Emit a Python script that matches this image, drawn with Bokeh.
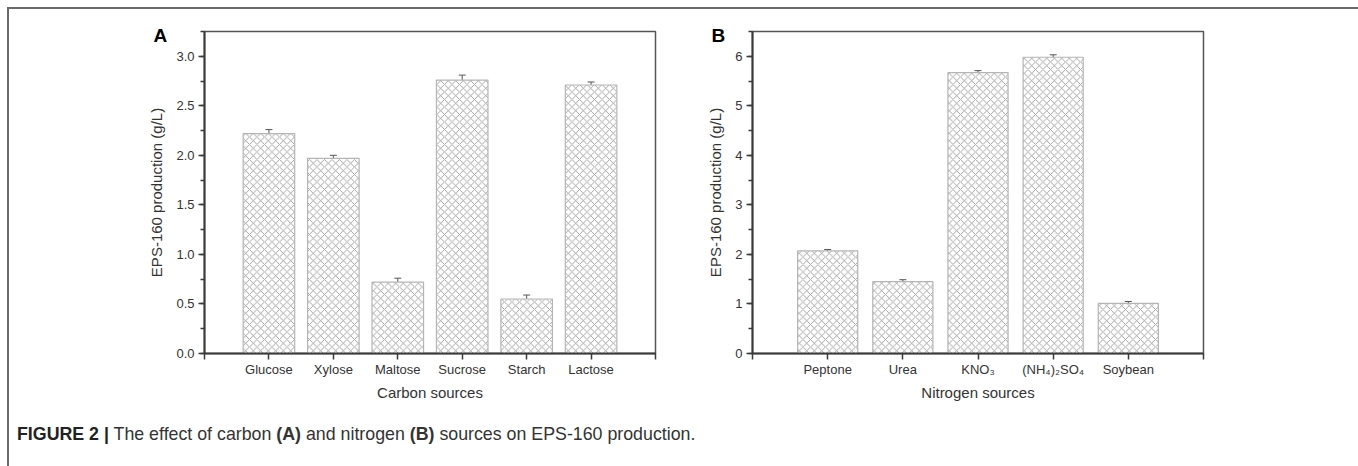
from bokeh.plotting import figure
from bokeh.models import (ColumnDataSource, Range1d, FixedTicker, SingleIntervalTicker,
                          Whisker, TeeHead, Div, Title, NumeralTickFormatter)
from bokeh.layouts import row, column
from bokeh.embed import file_html
from bokeh.resources import INLINE

# ---- data ----
carbon_sources = ["Glucose", "Xylose", "Maltose", "Sucrose", "Starch", "Lactose"]
carbon_values = [2.22, 1.97, 0.72, 2.76, 0.55, 2.71]
carbon_errors = [0.04, 0.03, 0.04, 0.05, 0.04, 0.03]

nitrogen_sources = ["Peptone", "Urea", "KNO\u2083", "(NH\u2084)\u2082SO\u2084", "Soybean"]
nitrogen_values = [2.07, 1.45, 5.67, 5.98, 1.01]
nitrogen_errors = [0.03, 0.04, 0.04, 0.05, 0.04]

carbon_yticks_interval = 0.5
nitrogen_yticks_interval = 1

FONT = "Liberation Sans"
AX = "#3a3a3a"


def panel(cats, vals, errs, ymax, yint, yfmt, width, mbl, mbr, ylabel, xlabel, letter, letter_off):
    n = len(cats)
    xs = list(range(1, n + 1))
    src = ColumnDataSource(dict(x=xs, value=vals, upper=[v + e for v, e in zip(vals, errs)]))
    p = figure(width=width, height=400, x_range=Range1d(0, n + 1), y_range=Range1d(0, ymax),
               output_backend="svg", toolbar_location=None, tools="",
               min_border_left=mbl, min_border_right=mbr, min_border_top=22, min_border_bottom=56)
    p.grid.visible = False
    p.outline_line_color = "#555555"
    p.outline_line_width = 1.5
    p.background_fill_color = "white"
    p.border_fill_color = "white"

    p.vbar(x="x", top="value", bottom=0, width=0.8, source=src,
           fill_color="white", line_color="#b5b5b5", line_width=1.2,
           hatch_pattern="x", hatch_scale=7.5, hatch_color="#8c8c8c", hatch_weight=0.8)
    w = Whisker(base="x", upper="upper", lower="value", source=src,
                line_color="#555555", line_width=1,
                upper_head=TeeHead(size=7, line_color="#555555", line_width=1), lower_head=None)
    p.add_layout(w)

    xa = p.xaxis[0]
    xa.ticker = FixedTicker(ticks=list(range(0, n + 2)))
    overrides = {0: "", n + 1: ""}
    for i, c in enumerate(cats):
        overrides[i + 1] = c
    xa.major_label_overrides = overrides
    xa.major_tick_in = 0
    xa.major_tick_out = 6
    xa.major_label_standoff = 2
    xa.axis_label = xlabel
    xa.axis_label_standoff = 4

    ya = p.yaxis[0]
    ya.ticker = SingleIntervalTicker(interval=yint, num_minor_ticks=2)
    ya.formatter = NumeralTickFormatter(format=yfmt)
    ya.major_tick_in = 0
    ya.major_tick_out = 6
    ya.minor_tick_in = 0
    ya.minor_tick_out = 4
    ya.major_label_standoff = 4
    ya.axis_label = ylabel
    ya.axis_label_standoff = 8

    for ax in (xa, ya):
        ax.axis_line_color = AX
        ax.axis_line_width = 2
        ax.major_tick_line_color = AX
        ax.major_tick_line_width = 1.5
        ax.minor_tick_line_color = AX if ax is ya else None
        ax.minor_tick_line_width = 1.5
        ax.major_label_text_font = FONT
        ax.major_label_text_font_size = "13px"
        ax.major_label_text_color = "#333333"
        ax.axis_label_text_font = FONT
        ax.axis_label_text_font_size = "15px"
        ax.axis_label_text_font_style = "normal"
        ax.axis_label_text_color = "#333333"

    p.title = Title(text=letter, align="left", offset=letter_off, standoff=-28,
                    vertical_align="bottom", text_font=FONT, text_font_size="19px",
                    text_font_style="bold", text_color="black")
    return p


pa = panel(carbon_sources, carbon_values, carbon_errors, 3.25, carbon_yticks_interval, "0.0",
           681, 195, 35, "EPS-160 production (g/L)", "Carbon sources", "A", -51)
pb = panel(nitrogen_sources, nitrogen_values, nitrogen_errors, 6.5, nitrogen_yticks_interval, "0",
           665, 62, 152, "EPS-160 production (g/L)", "Nitrogen sources", "B", -41)

caption = Div(
    text=("<div style=\"font-family:'Liberation Sans';font-size:17.8px;color:#333;"
          "padding-left:3px;padding-top:8px;white-space:nowrap\">"
          "<b style='color:#222'>FIGURE 2 |</b> The effect of carbon <b>(A)</b> and nitrogen "
          "<b>(B)</b> sources on EPS-160 production.</div>"),
    width=1346, height=56)

root = column(row(pa, pb), caption,
              styles={"border-left": "2px solid #6a6a6a", "border-top": "2px solid #6a6a6a",
                      "border-right": "2px solid #6a6a6a", "margin-left": "7px",
                      "margin-top": "7px", "background": "white"})

open("out.html", "w").write(file_html(root, INLINE))
